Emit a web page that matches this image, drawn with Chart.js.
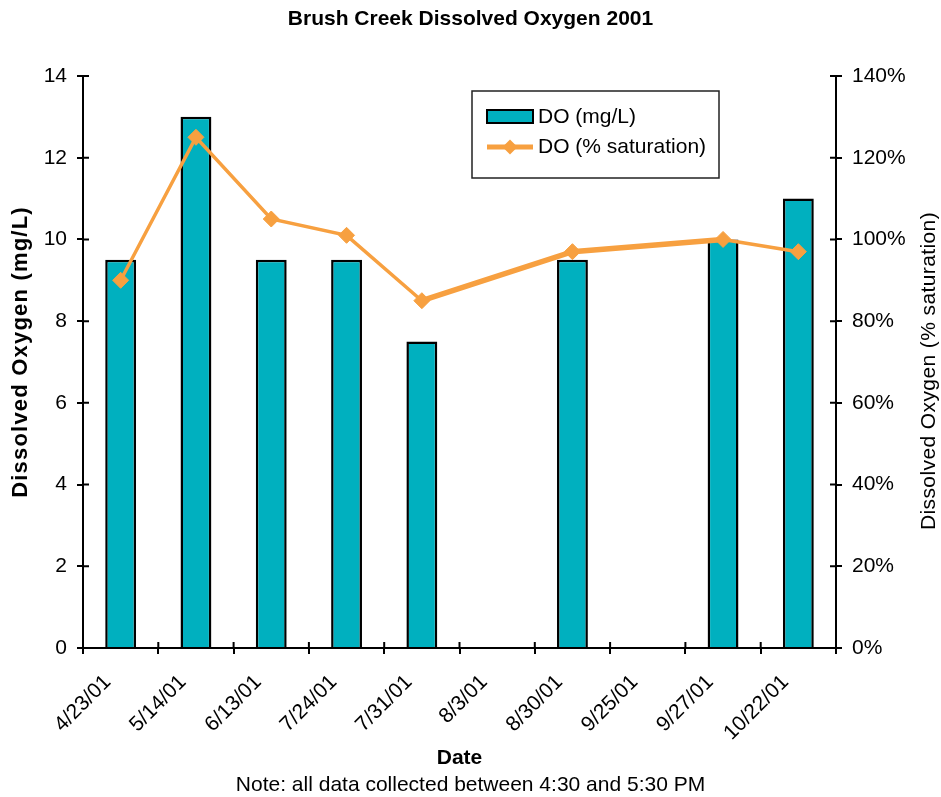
<!DOCTYPE html>
<html>
<head>
    <title>Brush Creek Dissolved Oxygen 2001</title>
    <script src="https://cdn.jsdelivr.net/npm/chart.js"></script>
    <style>body { margin: 0; background: #fff; }</style>
</head>
<body>
    <canvas id="myChart" width="941" height="797"></canvas>
    <script>
        // Sampling dates
        const dates = ['4/23/01', '5/14/01', '6/13/01', '7/24/01', '7/31/01',
                       '8/3/01', '8/30/01', '9/25/01', '9/27/01', '10/22/01'];
        // Dissolved oxygen, mg/L (null = not measured)
        const doMgL = [9.5, 13, 9.5, 9.5, 7.5, null, 9.5, null, 10, 11];
        // Dissolved oxygen, % saturation
        const doSat = [90, 125, 105, 101, 85, null, 97, null, 100, 97];

        const teal = '#00B0BF';
        const orange = '#F7A040';
        const fontFamily = '"Liberation Sans", Arial, sans-serif';

        Chart.defaults.font.family = fontFamily;
        Chart.defaults.font.size = 21;
        Chart.defaults.color = '#000';

        // small tick stubs on the inside of each axis
        const innerTicks = {
            id: 'innerTicks',
            afterDatasetsDraw(chart) {
                const {ctx, chartArea, scales} = chart;
                ctx.save();
                ctx.strokeStyle = '#000';
                ctx.lineWidth = 2;
                ctx.beginPath();
                scales.y.ticks.forEach((t, i) => {
                    const py = scales.y.getPixelForTick(i);
                    ctx.moveTo(chartArea.left, py);
                    ctx.lineTo(chartArea.left + 6, py);
                });
                scales.y1.ticks.forEach((t, i) => {
                    const py = scales.y1.getPixelForTick(i);
                    ctx.moveTo(chartArea.right, py);
                    ctx.lineTo(chartArea.right - 6, py);
                });
                for (let i = 0; i <= dates.length; i++) {
                    const px = scales.x.getPixelForValue(i - 0.5);
                    ctx.moveTo(px, chartArea.bottom);
                    ctx.lineTo(px, chartArea.bottom - 6);
                }
                ctx.stroke();
                ctx.restore();
            }
        };

        // boxed legend inside the plot + both axis titles (reading upwards)
        const boxLegend = {
            id: 'boxLegend',
            afterDraw(chart) {
                const {ctx, chartArea, scales} = chart;
                const ds = chart.data.datasets;
                const x = chartArea.left + 389, y = chartArea.top + 15;
                ctx.save();
                ctx.fillStyle = '#fff';
                ctx.fillRect(x, y, 247, 87);
                ctx.strokeStyle = '#222';
                ctx.lineWidth = 1.5;
                ctx.strokeRect(x, y, 247, 87);

                // bar swatch
                ctx.fillStyle = ds[0].backgroundColor;
                ctx.fillRect(x + 15, y + 19, 46, 13);
                ctx.strokeStyle = ds[0].borderColor;
                ctx.lineWidth = 2;
                ctx.strokeRect(x + 15, y + 19, 46, 13);

                // line swatch
                const ly = y + 56;
                ctx.strokeStyle = ds[1].borderColor;
                ctx.lineWidth = 5;
                ctx.beginPath();
                ctx.moveTo(x + 15, ly);
                ctx.lineTo(x + 61, ly);
                ctx.stroke();
                ctx.fillStyle = ds[1].pointBackgroundColor;
                ctx.beginPath();
                ctx.moveTo(x + 38 - 7.5, ly);
                ctx.lineTo(x + 38, ly - 7.5);
                ctx.lineTo(x + 38 + 7.5, ly);
                ctx.lineTo(x + 38, ly + 7.5);
                ctx.closePath();
                ctx.fill();

                ctx.fillStyle = '#000';
                ctx.font = '21px ' + fontFamily;
                ctx.textBaseline = 'middle';
                ctx.fillText(ds[0].label, x + 66, y + 26);
                ctx.fillText(ds[1].label, x + 66, ly);
                ctx.restore();

                // left axis title
                ctx.save();
                ctx.translate(21, 352);
                ctx.rotate(-Math.PI / 2);
                ctx.textAlign = 'center';
                ctx.textBaseline = 'middle';
                ctx.fillStyle = '#000';
                ctx.font = 'bold 22px ' + fontFamily;
                ctx.letterSpacing = '1.2px';
                ctx.fillText('Dissolved Oxygen (mg/L)', 0, 0);
                ctx.restore();

                // right axis title
                ctx.save();
                ctx.translate(scales.y1.right - 12, 371);
                ctx.rotate(-Math.PI / 2);
                ctx.textAlign = 'center';
                ctx.textBaseline = 'middle';
                ctx.fillStyle = '#000';
                ctx.font = '21px ' + fontFamily;
                ctx.letterSpacing = '0.4px';
                ctx.fillText('Dissolved Oxygen (% saturation)', 0, 0);
                ctx.restore();
            }
        };

        const ctx = document.getElementById('myChart').getContext('2d');
        new Chart(ctx, {
            data: {
                labels: dates,
                datasets: [{
                    type: 'bar',
                    label: 'DO (mg/L)',
                    data: doMgL,
                    yAxisID: 'y',
                    backgroundColor: teal,
                    borderColor: '#000',
                    borderWidth: 2.5,
                    borderSkipped: 'start',
                    barPercentage: 0.41,
                    categoryPercentage: 1,
                    order: 1
                }, {
                    type: 'line',
                    label: 'DO (% saturation)',
                    data: doSat,
                    yAxisID: 'y1',
                    borderColor: orange,
                    borderWidth: 3.5,
                    pointStyle: 'rectRot',
                    pointRadius: 8,
                    pointBorderWidth: 1,
                    pointBackgroundColor: orange,
                    pointBorderColor: orange,
                    spanGaps: true,
                    segment: {
                        // the spans across missing dates are drawn heavier
                        borderWidth: c => (c.p0.skip || c.p1.skip ? 5.5 : 3.5)
                    },
                    order: 0
                }]
            },
            options: {
                responsive: false,
                animation: false,
                devicePixelRatio: 1,
                layout: { padding: 0 },
                scales: {
                    x: {
                        offset: true,
                        afterFit: s => { s.height = 127; },
                        grid: { offset: true, drawOnChartArea: false, color: '#000', lineWidth: 2, tickLength: 6 },
                        border: { color: '#000', width: 2, z: 1 },
                        ticks: { autoSkip: false, minRotation: 45, maxRotation: 45, padding: 16, labelOffset: -13 },
                        title: { display: true, text: 'Date', font: { weight: 'bold' }, padding: { top: 0, bottom: 4 } }
                    },
                    y: {
                        position: 'left',
                        min: 0,
                        max: 14,
                        afterFit: s => { s.width = 83; },
                        ticks: { stepSize: 2, padding: 10 },
                        grid: { drawOnChartArea: false, color: '#000', lineWidth: 2, tickLength: 6 },
                        border: { color: '#000', width: 2 }
                    },
                    y1: {
                        position: 'right',
                        min: 0,
                        max: 140,
                        afterFit: s => { s.width = 105; },
                        ticks: { stepSize: 20, padding: 10, callback: v => v + '%' },
                        grid: { drawOnChartArea: false, color: '#000', lineWidth: 2, tickLength: 6 },
                        border: { color: '#000', width: 2 }
                    }
                },
                plugins: {
                    legend: { display: false },
                    tooltip: { enabled: false },
                    title: {
                        display: true,
                        text: 'Brush Creek Dissolved Oxygen 2001',
                        font: { size: 21, weight: 'bold' },
                        padding: { top: 7, bottom: 43.8 }
                    },
                    subtitle: {
                        display: true,
                        position: 'bottom',
                        text: 'Note: all data collected between 4:30 and 5:30 PM',
                        font: { size: 21, lineHeight: 1 },
                        padding: { top: 0, bottom: 1 }
                    }
                }
            },
            plugins: [innerTicks, boxLegend]
        });
    </script>
</body>
</html>
